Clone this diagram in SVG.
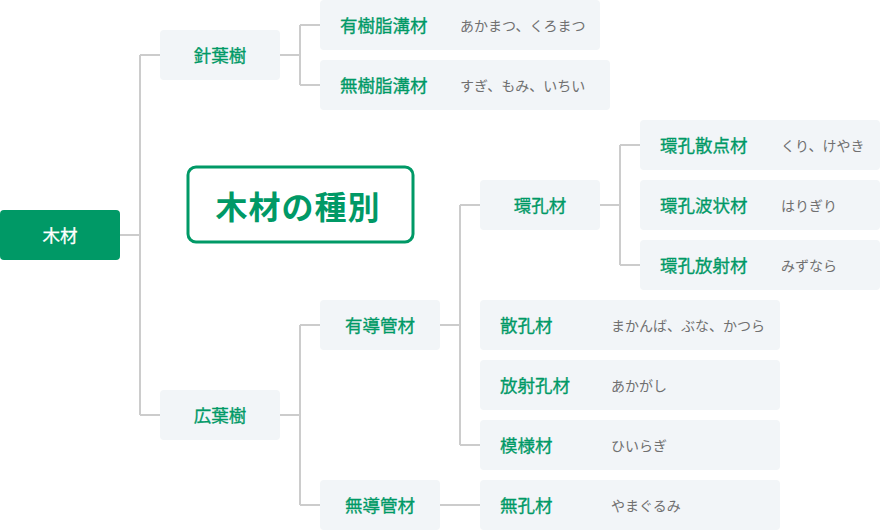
<svg xmlns="http://www.w3.org/2000/svg" width="880" height="530" viewBox="0 0 880 530">
<style>
.box{fill:#f2f5f8}
.lbl{font-family:"Noto Sans CJK JP","Noto Sans",sans-serif;font-size:17.5px;fill:#009966;font-weight:400;stroke:#009966;stroke-width:0.3px}
.sub{font-family:"Noto Sans CJK JP","Noto Sans",sans-serif;font-size:14px;fill:#707070}
.c{text-anchor:middle}
.ln{fill:none;stroke:#cccccc;stroke-width:2}
</style>
<rect width="880" height="530" fill="#ffffff"/>
<g id="connectors">
<path class="ln" d="M120 235H140M140 55V415M140 55H160M140 415H160"/>
<path class="ln" d="M280 55H300M300 25V85M300 25H320M300 85H320"/>
<path class="ln" d="M280 415H300M300 325V505M300 325H320M300 505H320"/>
<path class="ln" d="M440 325H460M460 205V445M460 205H480M460 445H480"/>
<path class="ln" d="M440 505H480"/>
<path class="ln" d="M600 205H620M620 145V265M620 145H640M620 265H640"/>
</g>
<g id="title">
<rect x="188" y="167" width="225" height="75" rx="8" fill="#ffffff" stroke="#009966" stroke-width="3"/>
<text x="298" y="219" class="c" style="font-family:'Noto Sans CJK JP','Noto Sans',sans-serif;font-size:32px;font-weight:700;fill:#009966;letter-spacing:1px">木材の種別</text>
</g>
<g id="n-mokuzai">
<rect x="0" y="210" width="120" height="50" rx="4" fill="#009966"/>
<text x="60" y="242" class="lbl c" style="fill:#ffffff;stroke:#ffffff">木材</text>
</g>
<g id="n-shinyoju">
<rect class="box" x="160" y="30" width="120" height="50" rx="4"/>
<text x="220" y="62" class="lbl c">針葉樹</text>
</g>
<g id="n-koyoju">
<rect class="box" x="160" y="390" width="120" height="50" rx="4"/>
<text x="220" y="422" class="lbl c">広葉樹</text>
</g>
<g id="n-yujushi">
<rect class="box" x="320" y="0" width="280" height="50" rx="4"/>
<text x="340" y="32" class="lbl">有樹脂溝材</text>
<text x="460" y="30.5" class="sub">あかまつ、くろまつ</text>
</g>
<g id="n-mujushi">
<rect class="box" x="320" y="60" width="290" height="50" rx="4"/>
<text x="340" y="92" class="lbl">無樹脂溝材</text>
<text x="460" y="90.5" class="sub">すぎ、もみ、いちい</text>
</g>
<g id="n-yudokan">
<rect class="box" x="320" y="300" width="120" height="50" rx="4"/>
<text x="380" y="332" class="lbl c">有導管材</text>
</g>
<g id="n-mudokan">
<rect class="box" x="320" y="480" width="120" height="50" rx="4"/>
<text x="380" y="512" class="lbl c">無導管材</text>
</g>
<g id="n-kankozai">
<rect class="box" x="480" y="180" width="120" height="50" rx="4"/>
<text x="540" y="212" class="lbl c">環孔材</text>
</g>
<g id="n-sanko">
<rect class="box" x="480" y="300" width="300" height="50" rx="4"/>
<text x="500" y="332" class="lbl">散孔材</text>
<text x="611" y="330.5" class="sub">まかんば、ぶな、かつら</text>
</g>
<g id="n-hoshako">
<rect class="box" x="480" y="360" width="300" height="50" rx="4"/>
<text x="500" y="392" class="lbl">放射孔材</text>
<text x="611" y="390.5" class="sub">あかがし</text>
</g>
<g id="n-moyo">
<rect class="box" x="480" y="420" width="300" height="50" rx="4"/>
<text x="500" y="452" class="lbl">模様材</text>
<text x="611" y="450.5" class="sub">ひいらぎ</text>
</g>
<g id="n-muko">
<rect class="box" x="480" y="480" width="300" height="50" rx="4"/>
<text x="500" y="512" class="lbl">無孔材</text>
<text x="611" y="510.5" class="sub">やまぐるみ</text>
</g>
<g id="n-kansanten">
<rect class="box" x="640" y="120" width="240" height="50" rx="4"/>
<text x="660" y="152" class="lbl">環孔散点材</text>
<text x="781" y="150.5" class="sub">くり、けやき</text>
</g>
<g id="n-kanhajo">
<rect class="box" x="640" y="180" width="240" height="50" rx="4"/>
<text x="660" y="212" class="lbl">環孔波状材</text>
<text x="781" y="210.5" class="sub">はりぎり</text>
</g>
<g id="n-kanhosha">
<rect class="box" x="640" y="240" width="240" height="50" rx="4"/>
<text x="660" y="272" class="lbl">環孔放射材</text>
<text x="781" y="270.5" class="sub">みずなら</text>
</g>
</svg>
